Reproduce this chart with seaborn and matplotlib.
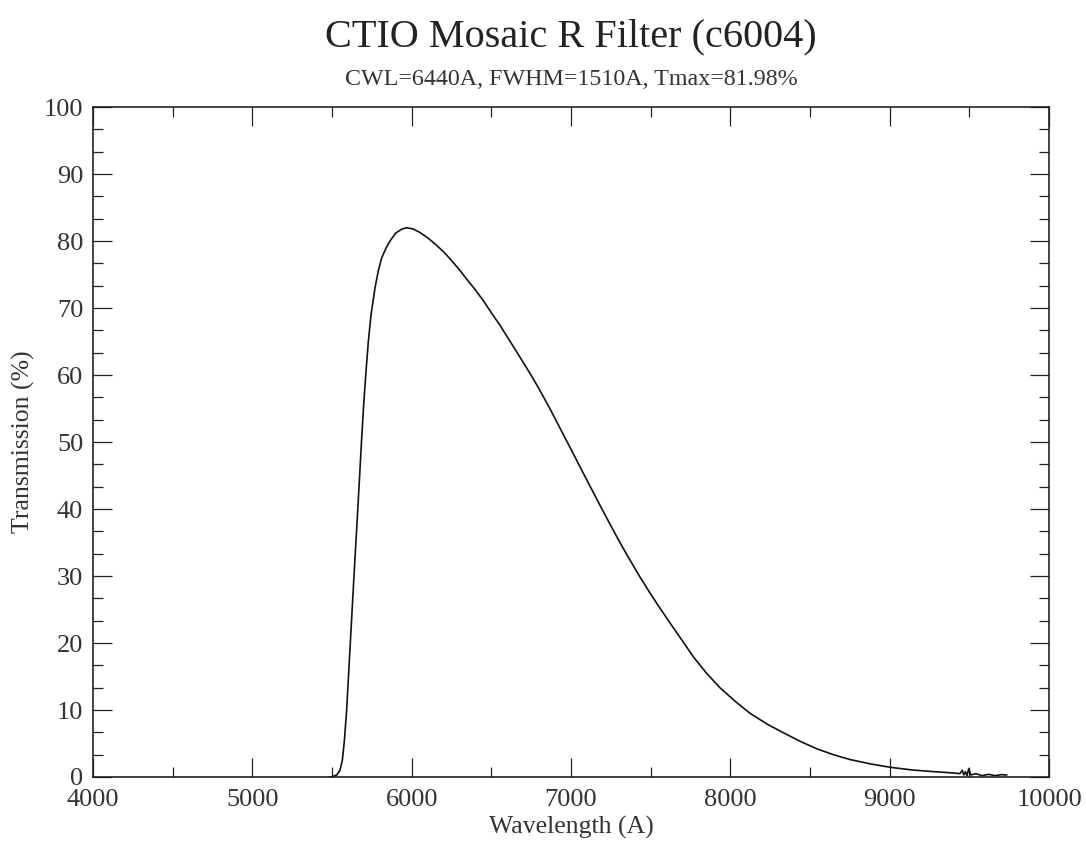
import matplotlib
matplotlib.use("Agg")
import matplotlib.pyplot as plt
from matplotlib.ticker import MultipleLocator, AutoMinorLocator
import seaborn as sns
import pandas as pd

# filter curve
wavelength = [5480, 5500, 5530, 5550, 5565, 5578, 5592, 5615, 5638, 5662, 5685,
              5700, 5715, 5728, 5745, 5770, 5790, 5812, 5840, 5864, 5900, 5940,
              5969, 6010, 6050, 6100, 6150, 6200, 6250, 6300, 6346, 6400, 6450,
              6500, 6555, 6600, 6650, 6700, 6764, 6800, 6858, 6900, 6950, 7000,
              7050, 7100, 7183, 7250, 7300, 7350, 7434, 7500, 7550, 7601, 7650,
              7700, 7769, 7850, 7936, 8030, 8124, 8230, 8333, 8440, 8543, 8650,
              8752, 8880, 9003, 9140, 9275, 9400, 9440, 9455, 9465, 9475, 9485,
              9495, 9510, 9540, 9580, 9620, 9660, 9700, 9735]
transmission = [0.0, 0.05, 0.3, 1.0, 2.5, 5.5, 10.0, 20.0, 30.0, 40.0, 50.0,
                 56.0, 61.0, 65.0, 69.0, 73.0, 75.5, 77.5, 79.0, 80.0, 81.2, 81.8,
                 81.98, 81.8, 81.3, 80.5, 79.5, 78.4, 77.1, 75.7, 74.3, 72.7, 71.1,
                 69.3, 67.4, 65.7, 63.8, 61.9, 59.4, 57.9, 55.4, 53.5, 51.2, 48.9,
                 46.6, 44.3, 40.5, 37.5, 35.3, 33.2, 29.8, 27.3, 25.5, 23.7, 22.0,
                 20.3, 17.9, 15.5, 13.3, 11.3, 9.5, 7.9, 6.6, 5.3, 4.2, 3.3,
                 2.6, 1.95, 1.45, 1.05, 0.8, 0.6, 0.5, 1.0, 0.3,
                 0.8, 0.2, 1.2, 0.3, 0.5, 0.2, 0.4, 0.2, 0.35, 0.3]

title = "CTIO Mosaic R Filter (c6004)"
subtitle = "CWL=6440A, FWHM=1510A, Tmax=81.98%"

df = pd.DataFrame({"wavelength": wavelength, "transmission": transmission})

sns.set_theme(style="ticks")
plt.rcParams['font.family'] = ['Liberation Serif', 'DejaVu Serif']

fig = plt.figure(figsize=(10.86, 8.41), dpi=100)
ax = fig.add_axes([0.0856, 0.0761, 0.8804, 0.7966])

sns.lineplot(data=df, x="wavelength", y="transmission", color="#111111",
             linewidth=1.2, ax=ax)

ax.set_xlim(4000, 10000)
ax.set_ylim(0, 100)
ax.xaxis.set_major_locator(MultipleLocator(1000))
ax.xaxis.set_minor_locator(AutoMinorLocator(2))
ax.yaxis.set_major_locator(MultipleLocator(10))
ax.yaxis.set_minor_locator(AutoMinorLocator(3))

ax.tick_params(which="both", direction="in", top=True, right=True,
               colors="#222222", labelcolor="#333333")
ax.tick_params(which="major", length=13.5, width=0.9, labelsize=19)
ax.tick_params(which="minor", length=7, width=0.9)
ax.tick_params(axis="y", pad=7)
ax.tick_params(axis="x", pad=9)
for s in ax.spines.values():
    s.set_linewidth(1.2)
    s.set_color("#222222")

ax.set_xlabel("Wavelength (A)", fontsize=18.5, color="#333333", labelpad=3)
ax.set_ylabel("Transmission (%)", fontsize=18.5, color="#333333", labelpad=6)

fig.text(0.5258, 0.956, title, ha="center", va="center", fontsize=29, color="#222222")
fig.text(0.5258, 0.906, subtitle, ha="center", va="center", fontsize=17.3, color="#333333")

fig.savefig("out.png", dpi=100)
